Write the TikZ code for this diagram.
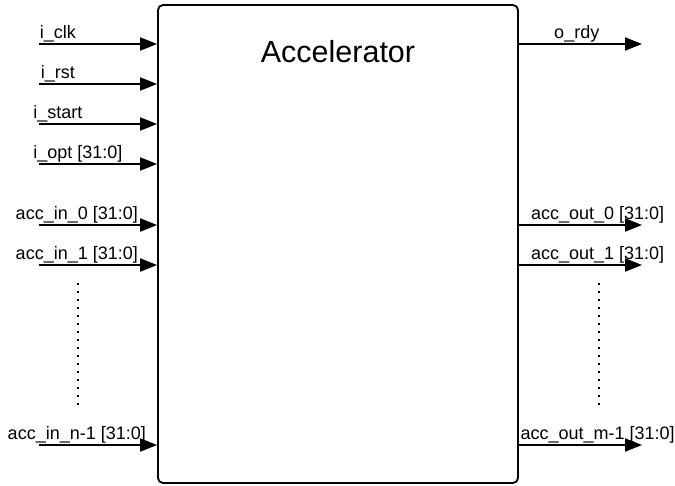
\documentclass[tikz,border=0pt]{standalone}
\usepackage{fontspec}
\setmainfont{Liberation Sans}
\usetikzlibrary{arrows.meta}
\begin{document}
\begin{tikzpicture}[x=1pt,y=-1pt,
	sig/.style={-{Triangle[length=17pt,width=13pt]},line width=2pt},
	lbl/.style={anchor=base,yshift=6pt,inner sep=0pt,font=\fontsize{18}{21}\selectfont},
	dots/.style={line width=2pt,dash pattern=on 2pt off 6pt}]
	\useasboundingbox (0,0) rectangle (675,485);
	\path
	(338,244) node[draw,line width=1.8pt,rounded corners=5pt,minimum width=360pt,minimum height=478pt,inner sep=0pt](acc){}
	(338,62) node[anchor=base,inner sep=0pt,font=\fontsize{30.5}{36}\selectfont](title){Accelerator}
	(39,44) coordinate(clk)
	(39,84) coordinate(rst)
	(39,124) coordinate(start)
	(39,164) coordinate(opt)
	(39,225) coordinate(in0)
	(39,265) coordinate(in1)
	(39,445) coordinate(inn)
	(642,44) coordinate(rdy)
	(642,225) coordinate(out0)
	(642,265) coordinate(out1)
	(642,445) coordinate(outm)
	(78,283) coordinate(dla) (78,408) coordinate(dlb)
	(599,283) coordinate(dra) (599,408) coordinate(drb)
	;
	\draw[sig] (clk)--(acc.west|-clk) node[lbl,pos=.16]{i\_clk};
	\draw[sig] (rst)--(acc.west|-rst) node[lbl,pos=.16]{i\_rst};
	\draw[sig] (start)--(acc.west|-start) node[lbl,pos=.16]{i\_start};
	\draw[sig] (opt)--(acc.west|-opt) node[lbl,pos=.33]{i\_opt [31:0]};
	\draw[sig] (in0)--(acc.west|-in0) node[lbl,pos=.32]{acc\_in\_0 [31:0]};
	\draw[sig] (in1)--(acc.west|-in1) node[lbl,pos=.32]{acc\_in\_1 [31:0]};
	\draw[sig] (inn)--(acc.west|-inn) node[lbl,pos=.32]{acc\_in\_n-1 [31:0]};
	\draw[sig] (acc.east|-rdy)--(rdy) node[lbl,pos=.47]{o\_rdy};
	\draw[sig] (acc.east|-out0)--(out0) node[lbl,pos=.64]{acc\_out\_0 [31:0]};
	\draw[sig] (acc.east|-out1)--(out1) node[lbl,pos=.64]{acc\_out\_1 [31:0]};
	\draw[sig] (acc.east|-outm)--(outm) node[lbl,pos=.64]{acc\_out\_m-1 [31:0]};
	\draw[dots] (dla)--(dlb);
	\draw[dots] (dra)--(drb);
\end{tikzpicture}
\end{document}
